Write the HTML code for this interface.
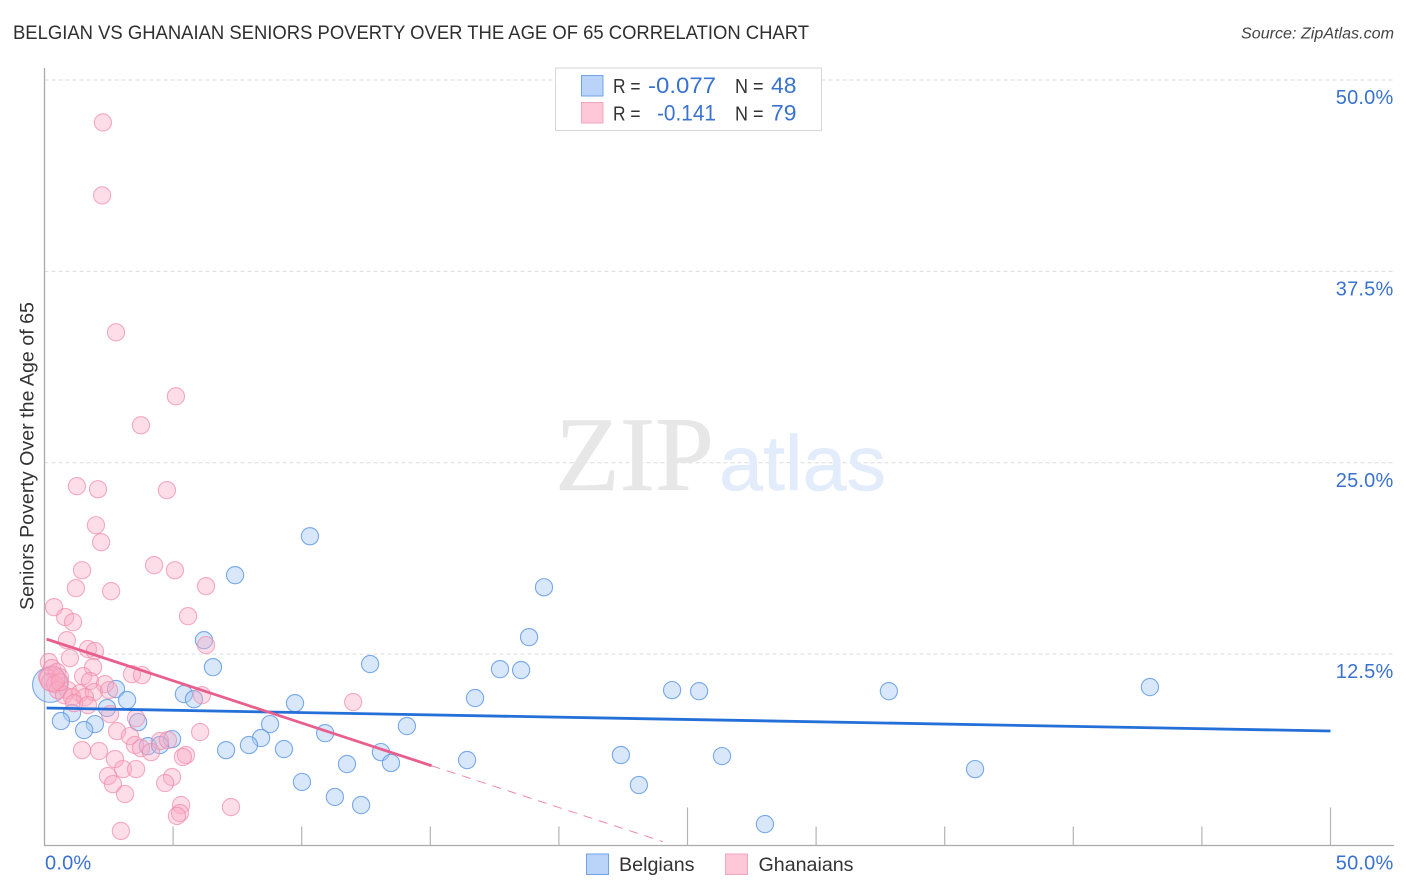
<!DOCTYPE html>
<html lang="en">
<head>
<meta charset="utf-8">
<title>Belgian vs Ghanaian Seniors Poverty Over the Age of 65 Correlation Chart</title>
<style>
html,body{margin:0;padding:0;background:#fff;}
svg{display:block;font-family:"Liberation Sans",sans-serif;}
</style>
</head>
<body>
<svg id="chart" xmlns="http://www.w3.org/2000/svg" width="1406" height="892" viewBox="0 0 1406 892">
  <rect x="0" y="0" width="1406" height="892" fill="#ffffff"/>
  <text x="13" y="39" font-size="19" fill="#2f2f2f" textLength="796" lengthAdjust="spacingAndGlyphs">BELGIAN VS GHANAIAN SENIORS POVERTY OVER THE AGE OF 65 CORRELATION CHART</text>
  <text x="1394" y="38.5" font-size="15.5" font-style="italic" fill="#444444" text-anchor="end" textLength="153" lengthAdjust="spacingAndGlyphs">Source: ZipAtlas.com</text>
  <g id="grid"></g>
  <text x="555" y="490" font-family="'Liberation Serif',serif" font-size="106" fill="#e7e7e7" stroke="#e7e7e7" stroke-width="0.6" textLength="159" lengthAdjust="spacingAndGlyphs">ZIP</text>
  <text x="719" y="490" font-size="78" fill="#e3ecfa" stroke="#e3ecfa" stroke-width="0.5" textLength="167" lengthAdjust="spacingAndGlyphs">atlas</text>
  <g id="axes"></g>
  <g id="points-belgians"></g>
  <g id="points-ghanaians"></g>
  <g id="trends"></g>
  <g id="tick-labels"></g>
  <text transform="translate(33.5,610) rotate(-90)" font-size="19" fill="#333333" textLength="308" lengthAdjust="spacingAndGlyphs">Seniors Poverty Over the Age of 65</text>

  <g>
    <rect x="555.5" y="68" width="266" height="62.5" fill="#ffffff" stroke="#d6d6d6" stroke-width="1"/>
    <rect x="581.5" y="75.5" width="21.5" height="20.5" fill="#b9d4f8" stroke="#6fa4e8" stroke-width="1"/>
    <rect x="581.5" y="102.5" width="21.5" height="20.5" fill="#fec8d9" stroke="#f5a5bd" stroke-width="1"/>
    <text x="613" y="93" font-size="20" fill="#333333" textLength="27.5" lengthAdjust="spacingAndGlyphs">R =</text>
    <text x="648" y="93" font-size="22" fill="#3a72d0" textLength="68" lengthAdjust="spacingAndGlyphs">-0.077</text>
    <text x="735" y="93" font-size="20" fill="#333333" textLength="28.5" lengthAdjust="spacingAndGlyphs">N =</text>
    <text x="771" y="93" font-size="22" fill="#3a72d0" textLength="25.5" lengthAdjust="spacingAndGlyphs">48</text>
    <text x="613" y="120.5" font-size="20" fill="#333333" textLength="27.5" lengthAdjust="spacingAndGlyphs">R =</text>
    <text x="657" y="120.5" font-size="22" fill="#3a72d0" textLength="59" lengthAdjust="spacingAndGlyphs">-0.141</text>
    <text x="735" y="120.5" font-size="20" fill="#333333" textLength="28.5" lengthAdjust="spacingAndGlyphs">N =</text>
    <text x="771" y="120.5" font-size="22" fill="#3a72d0" textLength="25.5" lengthAdjust="spacingAndGlyphs">79</text>
  </g>

  <g>
    <rect x="586.5" y="854" width="22" height="20.5" fill="#b9d4f8" stroke="#6fa4e8" stroke-width="1"/>
    <text x="619" y="871" font-size="19.5" fill="#333333" textLength="75.5" lengthAdjust="spacingAndGlyphs">Belgians</text>
    <rect x="725.5" y="854" width="22" height="20.5" fill="#fec8d9" stroke="#f5a5bd" stroke-width="1"/>
    <text x="758.5" y="871" font-size="19.5" fill="#333333" textLength="95" lengthAdjust="spacingAndGlyphs">Ghanaians</text>
  </g>
</svg>
<script>
const xTicks = [0, 5, 10, 15, 20, 25, 30, 35, 40, 45, 50];
const xMajorTicks = [0, 25, 50];
const xLabelTicks = [0, 50];
const xTickLabels = ["0.0%", "50.0%"];
const yTicks = [12.5, 25, 37.5, 50];
const yTickLabels = ["12.5%", "25.0%", "37.5%", "50.0%"];

const belgianX = [10.32,7.41,19.42,18.84,6.20,6.55,12.66,17.71,18.53,2.78,5.42,5.81,3.21,9.74,16.74,24.40,25.45,32.83,42.98,2.43,1.07,0.64,1.96,1.54,3.64,8.77,14.09,10.91,8.42,4.96,4.02,4.49,7.06,7.95,9.31,13.08,13.47,11.76,16.43,22.41,26.34,36.18,10.01,11.29,12.31,23.11,28.01];
const belgianY = [20.20,17.66,16.87,13.61,13.41,11.65,11.85,11.52,11.46,10.22,9.89,9.56,9.50,9.30,9.63,10.15,10.08,10.08,10.35,8.98,8.65,8.13,7.93,7.54,8.06,7.93,7.80,7.34,7.02,6.95,6.49,6.56,6.23,6.56,6.30,6.10,5.39,5.32,5.58,5.91,5.84,4.99,4.15,3.17,2.64,3.95,1.40];
const belgianClusterX = [0.22];
const belgianClusterY = [10.5];
const belgianClusterWeight = [4.2];

const ghanaianX = [2.27,2.24,2.78,5.11,3.75,1.26,2.08,4.76,2.00,2.20,4.26,5.07,1.46,1.22,6.28,2.59,0.37,0.80,1.11,5.58,0.87,6.28,1.69,1.96,0.99,1.89,0.17,0.29,0.49,1.50,3.40,3.79,0.10,0.60,1.77,2.35,0.21,0.41,0.52,0.91,1.38,1.92,2.51,0.76,1.07,1.57,6.12,12.00,1.15,1.69,2.55,3.56,6.05,2.82,3.32,4.49,4.80,3.52,3.75,4.14,1.46,2.12,2.74,5.50,5.38,3.05,3.56,2.47,4.96,4.69,2.66,3.13,5.31,7.25,5.27,5.15,2.97,0.60];
const ghanaianY = [47.23,42.46,33.52,29.34,27.45,23.47,23.27,23.21,20.92,19.81,18.31,17.98,17.98,16.81,16.94,16.61,15.57,14.92,14.59,14.98,13.41,13.09,12.83,12.70,12.24,11.65,11.98,11.59,11.33,11.06,11.19,11.13,11.00,11.00,10.74,10.54,10.67,10.54,10.15,10.15,9.95,10.02,10.15,9.82,9.69,9.69,9.82,9.37,9.30,9.17,8.58,8.32,7.41,7.47,7.15,6.82,6.89,6.56,6.36,6.10,6.23,6.17,5.65,5.91,5.78,4.99,4.99,4.54,4.47,4.08,4.01,3.36,2.64,2.51,2.12,1.93,0.95,10.67];
const ghanaianClusterX = [0.3];
const ghanaianClusterY = [10.9];
const ghanaianClusterWeight = [2.2];

const belgianTrendX = [0.08, 50];
const belgianTrendY = [8.98, 7.48];
const ghanaianTrendX = [0.08, 15.05];
const ghanaianTrendY = [13.48, 5.21];
const ghanaianTrendDashX = [15.05, 24.05];
const ghanaianTrendDashY = [5.21, 0.25];

const NS = "http://www.w3.org/2000/svg";
function xScale(v) { return 44.5 + v * (1330.5 - 44.5) / 50; }
function yScale(v) { return 845.5 - v * (845.5 - 80) / 50; }
function make(tag, attrs, parent) {
  const el = document.createElementNS(NS, tag);
  for (const k in attrs) el.setAttribute(k, attrs[k]);
  parent.appendChild(el);
  return el;
}

const gridG = document.getElementById("grid");
yTicks.forEach(function (t) {
  const el = make("line", {x1: 44.5, x2: 1394, y1: yScale(t), y2: yScale(t), stroke: "#dcdcdc", "stroke-width": 1, "stroke-dasharray": "4 3"}, gridG);
  
  
});

const axesG = document.getElementById("axes");
const yAxisLine = make("line", {x1: 44.5, x2: 44.5, y1: 68, y2: 846, stroke: "#aaaaaa", "stroke-width": 1.3}, axesG);


const xAxisLine = make("line", {x1: 44, x2: 1394, y1: 845.5, y2: 845.5, stroke: "#aaaaaa", "stroke-width": 1.3}, axesG);


xTicks.forEach(function (t) {
  if (t === 0) return;
  const top = xMajorTicks.indexOf(t) >= 0 ? 807.5 : 826.5;
  const el = make("line", {x1: xScale(t), x2: xScale(t), y1: top, y2: 845.5, stroke: "#b4b4b4", "stroke-width": 1.2}, axesG);
  
  
});

function drawPoint(parent, x, y, r, fill, stroke, fillOpacity, strokeOpacity) {
  return make("circle", {cx: xScale(x), cy: yScale(y), r: r, fill: fill, "fill-opacity": fillOpacity, stroke: stroke, "stroke-opacity": strokeOpacity, "stroke-width": 1.1}, parent);
}
const belgianG = document.getElementById("points-belgians");
const ghanaianG = document.getElementById("points-ghanaians");
belgianX.forEach(function (x, i) {
  const el = drawPoint(belgianG, x, belgianY[i], 8.6, "#a9c9f3", "#5a96e4", 0.45, 0.8);
  
  
});
belgianClusterX.forEach(function (x, i) {
  const el = drawPoint(belgianG, x, belgianClusterY[i], 8.6 * Math.sqrt(belgianClusterWeight[i]), "#a9c9f3", "#5a96e4", 0.45, 0.8);
  
  
});
ghanaianX.forEach(function (x, i) {
  const el = drawPoint(ghanaianG, x, ghanaianY[i], 8.6, "#f9a8c2", "#f08aaa", 0.38, 0.7);
  
  
});
ghanaianClusterX.forEach(function (x, i) {
  const el = drawPoint(ghanaianG, x, ghanaianClusterY[i], 8.6 * Math.sqrt(ghanaianClusterWeight[i]), "#f9a8c2", "#f08aaa", 0.38, 0.7);
  
  
});

const trendsG = document.getElementById("trends");
const bTrend = make("line", {x1: xScale(belgianTrendX[0]), x2: xScale(belgianTrendX[1]), y1: yScale(belgianTrendY[0]), y2: yScale(belgianTrendY[1]), stroke: "#2470d8", "stroke-width": 2.8}, trendsG);


const gTrend = make("line", {x1: xScale(ghanaianTrendX[0]), x2: xScale(ghanaianTrendX[1]), y1: yScale(ghanaianTrendY[0]), y2: yScale(ghanaianTrendY[1]), stroke: "#e85f8d", "stroke-width": 2.8}, trendsG);


const gDash = make("line", {x1: xScale(ghanaianTrendDashX[0]), x2: xScale(ghanaianTrendDashX[1]), y1: yScale(ghanaianTrendDashY[0]), y2: yScale(ghanaianTrendDashY[1]), stroke: "#ee8aa9", "stroke-width": 1, "stroke-dasharray": "9 7"}, trendsG);



const labelsG = document.getElementById("tick-labels");
yTicks.forEach(function (t, i) {
  const el = make("text", {x: 1393.5, y: yScale(t) + 24, "text-anchor": "end", "font-size": 20, "letter-spacing": 0.2, fill: "#3a72d0"}, labelsG);
  el.textContent = yTickLabels[i];
  
  
});
xLabelTicks.forEach(function (t, i) {
  const atEnd = i === xLabelTicks.length - 1;
  const el = make("text", {x: atEnd ? 1393.5 : xScale(t) + 0.5, y: 869.5, "text-anchor": atEnd ? "end" : "start", "font-size": 20, "letter-spacing": 0.2, fill: "#3a72d0"}, labelsG);
  el.textContent = xTickLabels[i];
  
  
});
</script>
</body>
</html>
